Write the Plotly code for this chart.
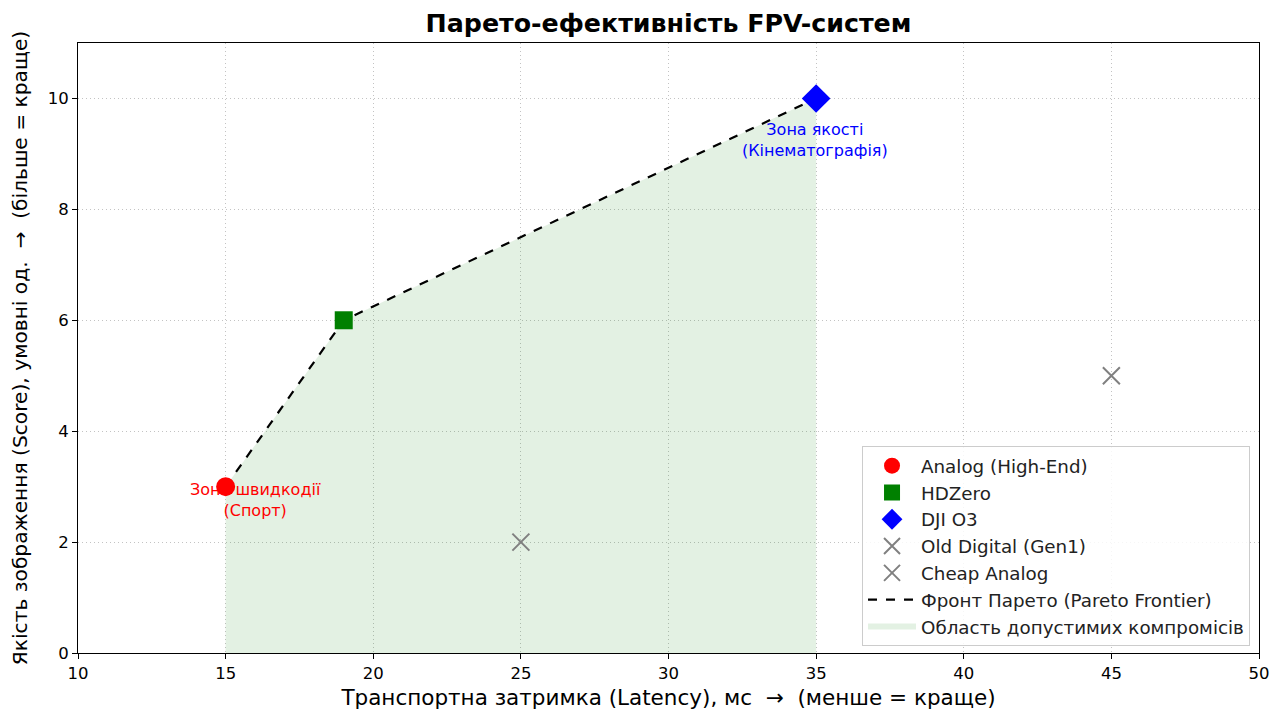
import plotly.graph_objects as go

names = ["Analog (High-End)", "HDZero", "DJI O3", "Old Digital (Gen1)", "Cheap Analog"]
latency = [15, 19, 35, 25, 45]
score = [3, 6, 10, 2, 5]
colors = ["red", "green", "blue", "gray", "gray"]
symbols = ["circle", "square", "diamond", "x-thin", "x-thin"]
sizes = [19, 18, 22, 17, 17]

front_x = [15, 19, 35]
front_y = [3, 6, 10]

FONT = "DejaVu Sans"
NB = "\u00a0"
fig = go.Figure()

fig.add_trace(go.Scatter(
    x=front_x + front_x[::-1], y=front_y + [0] * len(front_x),
    fill="toself", fillcolor="rgba(0,128,0,0.11)", mode="none",
    name="Область допустимих компромісів", showlegend=False, hoverinfo="skip"))

fig.add_trace(go.Scatter(
    x=front_x, y=front_y, mode="lines",
    line=dict(color="black", width=2.2, dash="dash"),
    name="Фронт Парето (Pareto Frontier)", showlegend=False))

for n, x, y, c, s, sz in zip(names, latency, score, colors, symbols, sizes):
    if s == "x-thin":
        marker = dict(symbol=s, size=sz, color=c, line=dict(color=c, width=2))
    else:
        marker = dict(symbol=s, size=sz, color=c, line=dict(width=0))
    fig.add_trace(go.Scatter(x=[x], y=[y], mode="markers", name=n, marker=marker))

fig.add_trace(go.Scatter(x=[None], y=[None], mode="lines",
                         line=dict(color="black", width=2.2, dash="dash"),
                         name="Фронт Парето (Pareto Frontier)"))
fig.add_trace(go.Scatter(x=[None], y=[None], mode="none", fill="toself",
                         fillcolor="rgba(0,128,0,0.11)",
                         name="Область допустимих компромісів"))

ann = [
    (16.0, 2.76, "Зона швидкодії<br>(Спорт)", "red"),
    (34.96, 9.25, "Зона якості<br>(Кінематографія)", "blue"),
]
for ax, ay, t, c in ann:
    fig.add_annotation(x=ax, y=ay, text=t, showarrow=False,
                       font=dict(family=FONT, size=16, color=c))

axis_common = dict(showgrid=True, gridcolor="rgba(185,185,185,0.85)", griddash="1px,3px", gridwidth=1,
                   showline=True, linecolor="black", linewidth=1, mirror=True,
                   ticks="outside", ticklen=5, tickcolor="black", automargin=False,
                   tickfont=dict(family=FONT, size=16.5, color="black"), zeroline=False)

fig.update_xaxes(range=[10, 50], dtick=5, tick0=10,
                 title=dict(text=f"Транспортна затримка (Latency), мс{NB}{NB}→{NB}{NB}(менше = краще)",
                            font=dict(family=FONT, size=21.5, color="black"), standoff=8),
                 **axis_common)
fig.update_yaxes(range=[0, 11], tickvals=[0, 2, 4, 6, 8, 10],
                 title=dict(text=f"Якість зображення (Score), умовні од.{NB}{NB}→{NB}{NB}(більше = краще)",
                            font=dict(family=FONT, size=20.2, color="black"), standoff=14),
                 **axis_common)

fig.update_layout(
    width=1274, height=703,
    margin=dict(l=70, r=23, t=35, b=58),
    plot_bgcolor="white", paper_bgcolor="white",
    title=dict(text="<b>Парето-ефективність FPV-систем</b>", xref="paper", x=0.5, xanchor="center",
               y=0.979, yanchor="middle", font=dict(family=FONT, size=25.3, color="black")),
    legend=dict(x=0.9924, y=0.011, xanchor="right", yanchor="bottom",
                bgcolor="rgba(255,255,255,0.85)", bordercolor="#cccccc", borderwidth=1,
                font=dict(family=FONT, size=18.3, color="#222"), tracegroupgap=0,
                itemwidth=48),
    showlegend=True,
)

fig.write_html("out.html")
